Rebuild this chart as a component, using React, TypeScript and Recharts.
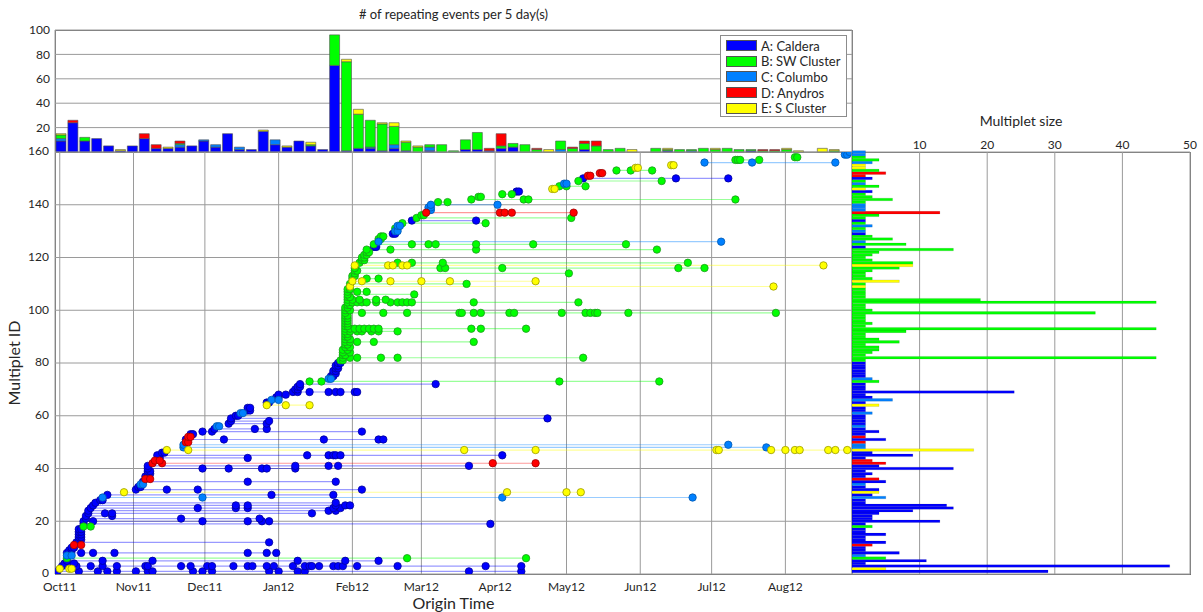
import React from 'react';
import {
  BarChart,
  Bar,
  ScatterChart,
  Scatter,
  XAxis,
  YAxis,
  CartesianGrid,
  Legend,
  Cell,
  Label,
} from 'recharts';

// days counted from 1 Oct 2011
const monthDays = [0, 31, 61, 92, 123, 152, 183, 213, 244, 274, 305];
const monthLabels = ['Oct11', 'Nov11', 'Dec11', 'Jan12', 'Feb12', 'Mar12', 'Apr12', 'May12', 'Jun12', 'Jul12', 'Aug12'];
const idTicks = [0, 20, 40, 60, 80, 100, 120, 140, 160];
const countTicks = [20, 40, 60, 80, 100];
const sizeTicks = [10, 20, 30, 40, 50];

const clusterKeys = ['A', 'B', 'C', 'D', 'E'];
const clusterNames = ['A: Caldera', 'B: SW Cluster', 'C: Columbo', 'D: Anydros', 'E: S Cluster'];
const clusterFill: Record<string, string> = { A: '#0000ff', B: '#00ff00', C: '#0080ff', D: '#ff0000', E: '#ffff00' };
const clusterEdge: Record<string, string> = { A: '#00009a', B: '#1c9a1c', C: '#0058b0', D: '#a00000', E: '#9a9a00' };
const stackOrder = ['A', 'C', 'B', 'D', 'E'];

// repeating events per 5-day bin (first bin starts 29 Sep 2011)
const histA = [9, 24, 9, 11, 5, 1, 5, 11, 3, 3, 4, 5, 9, 4, 15, 2, 2, 17, 6, 4, 9, 5, 2, 71, 1, 3, 3, 1, 3, 1, 0, 1, 0, 0, 2, 2, 1, 3, 4, 0, 0, 0, 0, 0, 2, 0, 0, 0, 0, 0, 0, 1, 0, 0, 0, 0, 0, 0, 1, 0, 0, 0, 0, 0, 0, 0];
const histB = [3, 0, 3, 0, 0, 0, 0, 0, 0, 0, 1, 0, 0, 0, 0, 0, 0, 0, 0, 0, 0, 1, 0, 25, 73, 28, 22, 22, 15, 7, 4, 2, 6, 1, 8, 14, 0, 2, 3, 6, 2, 0, 7, 3, 5, 5, 2, 3, 0, 0, 3, 1, 2, 1, 3, 2, 3, 2, 1, 1, 1, 2, 0, 0, 0, 1];
const histC = [2, 0, 0, 0, 0, 0, 0, 0, 0, 0, 2, 0, 1, 2, 0, 2, 0, 0, 4, 0, 0, 0, 0, 0, 0, 0, 1, 0, 3, 0, 0, 3, 0, 0, 0, 0, 0, 0, 0, 0, 0, 0, 2, 0, 0, 0, 0, 0, 0, 0, 0, 0, 0, 1, 0, 0, 0, 0, 0, 0, 0, 0, 0, 0, 0, 0];
const histD = [0, 2, 0, 0, 0, 0, 0, 4, 3, 0, 2, 0, 0, 0, 0, 0, 0, 0, 0, 0, 0, 0, 0, 0, 0, 0, 0, 0, 0, 0, 0, 0, 0, 0, 0, 0, 2, 10, 0, 0, 1, 0, 0, 1, 2, 4, 0, 0, 0, 0, 0, 0, 0, 0, 0, 0, 0, 0, 0, 1, 1, 0, 0, 0, 0, 0];
const histE = [1, 0, 0, 0, 0, 1, 0, 0, 0, 1, 0, 0, 0, 0, 0, 0, 0, 1, 0, 1, 0, 2, 0, 0, 2, 4, 0, 1, 3, 1, 1, 0, 0, 0, 0, 0, 0, 0, 0, 0, 0, 2, 0, 0, 0, 0, 0, 0, 2, 0, 0, 1, 0, 0, 0, 1, 0, 0, 0, 0, 0, 1, 1, 0, 3, 1];

// cluster of multiplets 1..160
const multipletCluster = (
  'AEAAABCAAA' + 'DAAAAAABAA' + 'AAAAAAAACA' + 'EAACADAAAA' + 'ADDAAAECCD' +
  'ADAAACAAAA' + 'CAAEACAAAA' + 'AABCAAAAAA' + 'BBBBBBBBBB' + 'BBBBBBBBBB' +
  'BBBBBBBBEB' + 'EBBBBBEBBB' + 'BBBABCBBAC' + 'BCBABBDCCC' + 'BBBBAEBCBA' + 'DDBEECBBCC'
).split('');

// number of events in multiplets 1..160
const multipletSize = [
  29, 5, 47, 2, 11, 5, 2, 7, 2, 2,
  3, 5, 2, 2, 5, 2, 2, 3, 2, 13,
  3, 3, 4, 9, 15, 14, 2, 2, 5, 3,
  4, 4, 2, 2, 5, 4, 2, 3, 2, 15,
  4, 5, 3, 2, 9, 3, 18, 2, 2, 2,
  5, 2, 2, 4, 2, 2, 2, 2, 2, 2,
  3, 2, 2, 4, 2, 6, 3, 2, 24, 2,
  2, 2, 4, 3, 2, 2, 2, 2, 2, 2,
  2, 45, 2, 3, 4, 4, 2, 7, 4, 2,
  2, 8, 45, 2, 3, 2, 2, 2, 36, 3,
  2, 2, 45, 19, 2, 2, 2, 2, 2, 2,
  7, 3, 2, 2, 3, 7, 9, 9, 3, 2,
  3, 4, 15, 2, 8, 2, 6, 3, 2, 2,
  2, 3, 2, 2, 2, 4, 13, 2, 2, 2,
  2, 6, 3, 2, 3, 2, 4, 2, 2, 3,
  2, 5, 4, 2, 2, 3, 4, 2, 2, 2,
];

// event origin days of multiplets 1..160
const multipletDays: number[][] = [
  [-1, 8, 16, 20, 24, 32, 37, 39, 56, 60, 64, 88, 92, 100, 103, 172, 194],
  [0, 4, 5],
  [1, 4, 7, 13, 18, 24, 36, 37, 51, 55, 62, 64, 73, 79, 81, 87, 90, 98, 103, 105, 106, 109, 115, 117, 119, 125, 142, 179, 194],
  [2, 6],
  [3, 18, 39, 100, 120, 134],
  [3, 146, 196],
  [3, 5],
  [3, 9, 14, 23, 79, 87, 91],
  [4, 5],
  [5, 6],
  [6, 9],
  [7, 88],
  [8, 9],
  [8, 9],
  [8, 9],
  [8, 9],
  [8, 9],
  [10, 13],
  [10, 181],
  [10, 14, 60, 79, 85, 88],
  [11, 51, 84],
  [11, 22],
  [12, 19, 22, 106],
  [12, 113, 116],
  [13, 58, 74, 79, 115, 118],
  [14, 74, 79, 116, 120, 122],
  [15, 116],
  [17, 18],
  [18, 60, 186, 266],
  [20, 89, 115],
  [27, 188, 213, 219],
  [32, 45, 58, 127],
  [33, 34],
  [34, 35],
  [35, 79, 116],
  [36, 38],
  [36, 37],
  [37, 38],
  [37, 38],
  [37, 60, 71, 85, 87, 99],
  [37, 99, 113, 117, 172],
  [39, 43, 182, 200],
  [40, 42],
  [42, 79],
  [41, 104, 113, 115, 116, 118, 186],
  [43, 44],
  [45, 54, 170, 200, 276, 277, 299, 305, 309, 311, 323, 326, 331],
  [52, 297],
  [52, 281],
  [53, 54],
  [53, 69, 111, 134, 136],
  [54, 55],
  [55, 56],
  [60, 64, 127],
  [65, 82, 87],
  [66, 67],
  [71, 87],
  [72, 88],
  [72, 205],
  [74, 75],
  [76, 77],
  [79, 80],
  [79, 80],
  [87, 95, 105],
  [87, 88],
  [89, 92],
  [91, 92],
  [92, 95],
  [98, 100, 105, 113, 116, 118, 124, 125],
  [99, 100],
  [100, 101],
  [101, 158],
  [105, 110, 210, 252],
  [113, 114],
  [114, 115],
  [115, 116],
  [115, 116],
  [116, 117],
  [116, 117],
  [117, 118],
  [118, 119],
  [119, 122, 125, 135, 142, 220],
  [119, 120],
  [119, 122],
  [119, 121],
  [120, 122],
  [120, 121],
  [120, 122, 125, 132, 174],
  [120, 122],
  [120, 121],
  [120, 121],
  [120, 122, 125, 127, 131, 134, 142],
  [120, 122, 124, 126, 128, 130, 132, 134, 173, 177, 196],
  [120, 121],
  [120, 121],
  [120, 121],
  [120, 121],
  [120, 121],
  [120, 127, 136, 146, 168, 169, 174, 177, 189, 191, 211, 221, 223, 225, 226, 239, 301],
  [120, 122],
  [120, 121],
  [121, 122],
  [121, 123, 125, 127, 129, 133, 139, 142, 144, 146, 148, 174, 218],
  [121, 123, 126, 133, 137],
  [121, 122],
  [121, 149],
  [121, 125, 129],
  [121, 122],
  [122, 300],
  [122, 171],
  [123, 127, 139, 152, 164, 200],
  [123, 129, 134],
  [123, 124],
  [124, 214],
  [124, 125],
  [124, 160, 162, 186, 260, 271],
  [124, 138, 140, 144, 146, 321],
  [126, 142, 148, 161, 264],
  [127, 128],
  [127, 128],
  [128, 129],
  [129, 130],
  [129, 139, 175, 251],
  [132, 133],
  [132, 148, 155, 158, 175, 199, 238],
  [134, 278],
  [134, 135],
  [135, 136],
  [140, 141],
  [141, 142],
  [141, 142],
  [142, 143],
  [144, 179],
  [148, 175],
  [150, 215],
  [152, 153],
  [154, 185, 187, 190, 216],
  [155, 156],
  [155, 156],
  [156, 184],
  [159, 163],
  [173, 195, 197, 284],
  [176, 177],
  [186, 190],
  [192, 193],
  [207, 208],
  [210, 213, 221],
  [212, 213],
  [218, 253],
  [220, 259, 281],
  [222, 223],
  [227, 228],
  [234, 240, 249],
  [242, 243],
  [257, 258],
  [271, 291, 326],
  [284, 285, 286, 294],
  [309, 310],
  [330, 331],
  [332],
];

const histData = histA.map((a, i) => ({
  day: i * 5 + 0.5,
  A: a, B: histB[i], C: histC[i], D: histD[i], E: histE[i],
}));

const sizeData = multipletSize.map((size, i) => ({ id: i + 1, size, cluster: multipletCluster[i] }));

const dotsByCluster = clusterKeys.map((k) => ({
  key: k,
  points: multipletDays.flatMap((days, i) =>
    multipletCluster[i] === k ? days.map((d) => ({ x: d, y: i + 1 })) : []),
}));

const tickStyle = { fill: '#262626', fontSize: 12 };
const gridColor = '#9a9a9a';

const noDot = () => <g />;

const makeDot = (k: string) => (p: any) => (
  <circle cx={p.cx} cy={p.cy} r={3.7} fill={clusterFill[k]} stroke={clusterEdge[k]} strokeWidth={0.8} />
);

function LegendBox({ payload }: { payload?: any[] }) {
  const items = [...(payload ?? [])].sort((a, b) => String(a.value).localeCompare(String(b.value)));
  return (
    <div style={{ background: '#fff', border: '1px solid #8c8c8c', padding: '2px 5px', boxSizing: 'border-box', height: 82 }}>
      {items.map((it) => (
        <div key={it.value} style={{ display: 'flex', alignItems: 'center', height: 15.6 }}>
          <span style={{ width: 31, height: 11, background: it.color, border: '1px solid #555', marginRight: 4, boxSizing: 'border-box' }} />
          <span style={{ fontSize: 13, color: '#262626', whiteSpace: 'nowrap' }}>{it.value}</span>
        </div>
      ))}
    </div>
  );
}

const box = (left: number, top: number, width: number, height: number): React.CSSProperties => ({
  position: 'absolute', left, top, width, height, border: '1px solid #6e6e6e', boxSizing: 'border-box',
});

export default function App() {
  return (
    <div style={{
      position: 'absolute', left: 0, top: 0, width: 1203, height: 612, background: '#fff',
      fontFamily: 'Lato, "Open Sans", sans-serif', color: '#262626', overflow: 'hidden',
    }}>
      <div style={box(55, 30, 798, 123)} />
      <div style={box(55, 152, 798, 423)} />
      <div style={box(852, 152, 339, 423)} />

      <div style={{ position: 'absolute', left: 55, width: 797, top: 6, textAlign: 'center', fontSize: 13 }}>
        # of repeating events per 5 day(s)
      </div>

      <div style={{ position: 'absolute', left: 0, top: 0 }}>
        <BarChart width={860} height={160} data={histData} margin={{ top: 30, right: 8, bottom: 8, left: 0 }}>
          <CartesianGrid stroke={gridColor} />
          <XAxis type="number" dataKey="day" domain={[-2, 333]} ticks={monthDays} height={0}
            tick={false} tickSize={0} axisLine={false} allowDataOverflow />
          <YAxis type="number" domain={[0, 100]} ticks={countTicks} width={55}
            tickSize={0} tickMargin={5} axisLine={false} tick={tickStyle} />
          {stackOrder.map((k) => (
            <Bar key={k} dataKey={k} name={clusterNames[clusterKeys.indexOf(k)]} stackId="n"
              fill={clusterFill[k]} stroke="#505050" strokeWidth={0.6} barSize={10}
              isAnimationActive={false} />
          ))}
          <Legend layout="vertical" align="center" verticalAlign="middle"
            content={<LegendBox />}
            wrapperStyle={{ left: 720, top: 35, width: 127 }} />
        </BarChart>
      </div>

      <div style={{ position: 'absolute', left: 0, top: 0 }}>
        <ScatterChart width={860} height={612} margin={{ top: 152, right: 8, bottom: 0, left: 0 }}>
          <CartesianGrid stroke={gridColor} />
          <XAxis type="number" dataKey="x" domain={[-2, 333]} ticks={monthDays}
            tickFormatter={(v) => monthLabels[monthDays.indexOf(v)] ?? ''}
            height={38} tickSize={0} tickMargin={8} axisLine={false} tick={tickStyle} allowDataOverflow>
            <Label value="Origin Time" position="insideBottom" offset={3} style={{ fontSize: 16, fill: '#262626' }} />
          </XAxis>
          <YAxis type="number" dataKey="y" domain={[0, 160]} ticks={idTicks} width={55}
            tickSize={0} tickMargin={6} axisLine={false} tick={{ ...tickStyle, dy: -1 }} allowDataOverflow>
            <Label value="Multiplet ID" angle={-90} position="insideLeft" offset={14}
              style={{ fontSize: 16, fill: '#262626', textAnchor: 'middle' }} />
          </YAxis>
          {multipletDays.map((days, i) => days.length > 1 ? (
            <Scatter key={'line' + i}
              data={[{ x: days[0], y: i + 1 }, { x: days[days.length - 1], y: i + 1 }]}
              fill={clusterFill[multipletCluster[i]]}
              line={{ stroke: clusterFill[multipletCluster[i]], strokeWidth: 1.2, strokeOpacity: 0.4 }}
              shape={noDot} legendType="none" isAnimationActive={false} />
          ) : null)}
          {dotsByCluster.map((c) => (
            <Scatter key={'dots' + c.key} data={c.points} fill={clusterFill[c.key]}
              shape={makeDot(c.key)} legendType="none" isAnimationActive={false} />
          ))}
        </ScatterChart>
      </div>

      <div style={{ position: 'absolute', left: 840, top: 110 }}>
        <BarChart layout="vertical" width={360} height={502} data={sizeData}
          margin={{ top: 0, right: 10, bottom: 38, left: 12 }}>
          <CartesianGrid stroke={gridColor} />
          <XAxis type="number" orientation="top" domain={[0, 50]} ticks={sizeTicks} height={42}
            tickSize={0} tickMargin={3} axisLine={false} tick={tickStyle}>
            <Label value="Multiplet size" position="insideTop" offset={6} style={{ fontSize: 14, fill: '#262626' }} />
          </XAxis>
          <YAxis type="number" dataKey="id" domain={[0, 160]} ticks={idTicks} width={0} reversed
            tick={false} tickSize={0} axisLine={false} />
          <Bar dataKey="size" barSize={2.6} stroke="rgba(0,0,0,0.25)" strokeWidth={0.4} isAnimationActive={false}>
            {sizeData.map((d) => (
              <Cell key={d.id} fill={clusterFill[d.cluster]} />
            ))}
          </Bar>
        </BarChart>
      </div>
    </div>
  );
}
